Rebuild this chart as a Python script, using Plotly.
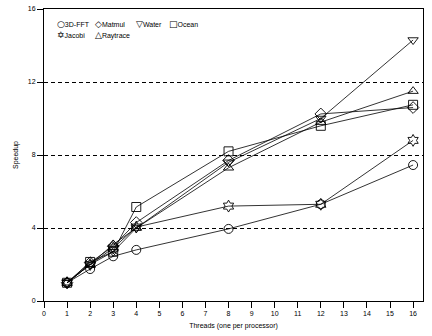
import plotly.graph_objects as go

threads = [1, 2, 3, 4, 8, 12, 16]
fft3d = [1.0, 1.75, 2.45, 2.8, 3.95, 5.3, 7.45]
jacobi = [1.0, 2.0, 2.9, 4.05, 5.2, 5.3, 8.8]
matmul = [1.0, 2.1, 3.0, 4.3, 7.7, 10.25, 10.6]
water = [1.0, 2.0, 2.7, 4.0, 7.6, 10.0, 14.3]
raytrace = [1.0, 2.0, 3.1, 4.0, 7.3, 9.8, 11.5]
ocean = [1.0, 2.14, 2.7, 5.15, 8.2, 9.6, 10.75]

names = ["3D-FFT", "Jacobi", "Matmul", "Raytrace", "Water", "Ocean"]
values = [fft3d, jacobi, matmul, raytrace, water, ocean]
symbols = ["circle-open", "hexagram-open", "diamond-open",
           "triangle-up-open", "triangle-down-open", "square-open"]
legend_glyphs = ["\u25CB", "\u2721", "\u25C7", "\u25B3", "\u25BD", "\u25A1"]
# legend layout (column, row) in the reference
legend_cells = [(0, 0), (0, 1), (1, 0), (1, 1), (2, 0), (3, 0)]
legend_col_px = [56, 94, 135, 168]
legend_row_px = [20, 31]

FONT = "Liberation Sans"
L, R, T, B, W, H = 44, 9, 5, 35, 432, 336
PW, PH = W - L - R, H - T - B

fig = go.Figure()
for name, vals, sym in zip(names, values, symbols):
    fig.add_trace(go.Scatter(
        x=threads, y=vals, name=name, mode="lines+markers",
        line=dict(color="black", width=0.8),
        marker=dict(symbol=sym, size=9, color="black", line=dict(width=0.9)),
        showlegend=False,
    ))

glyph_style = "font-family:'DejaVu Sans';font-size:9px"
for name, glyph, (c, r) in zip(names, legend_glyphs, legend_cells):
    fig.add_annotation(
        x=(legend_col_px[c] - L) / PW, y=1 - (legend_row_px[r] - T) / PH,
        xref="paper", yref="paper",
        text="<span style=\"%s\">%s</span>%s" % (glyph_style, glyph, name),
        showarrow=False, xanchor="left", yanchor="middle", align="left",
        borderpad=0, font=dict(family=FONT, size=7, color="black"),
    )

fig.update_layout(
    width=W, height=H,
    margin=dict(l=L, r=R, t=T, b=B),
    paper_bgcolor="white", plot_bgcolor="white",
    font=dict(family=FONT, size=7, color="black"),
    showlegend=False,
)
fig.update_xaxes(
    range=[0, 16.43], tickmode="linear", tick0=0, dtick=1,
    ticks="outside", ticklen=6, tickcolor="black", tickwidth=1,
    showline=True, linecolor="black", linewidth=1, mirror=True,
    showgrid=False, zeroline=False,
    title=dict(text="Threads (one per processor)", font=dict(size=7), standoff=6),
    tickfont=dict(size=7),
)
fig.update_yaxes(
    range=[0, 16], tickmode="array", tickvals=[0, 4, 8, 12, 16],
    ticks="outside", ticklen=6, tickcolor="black", tickwidth=1,
    showline=True, linecolor="black", linewidth=1, mirror=True,
    showgrid=True, gridcolor="black", gridwidth=1, griddash="4px,3px",
    zeroline=False,
    title=dict(text="Speedup", font=dict(size=7), standoff=8),
    tickfont=dict(size=7),
)

fig.write_html("out.html")
